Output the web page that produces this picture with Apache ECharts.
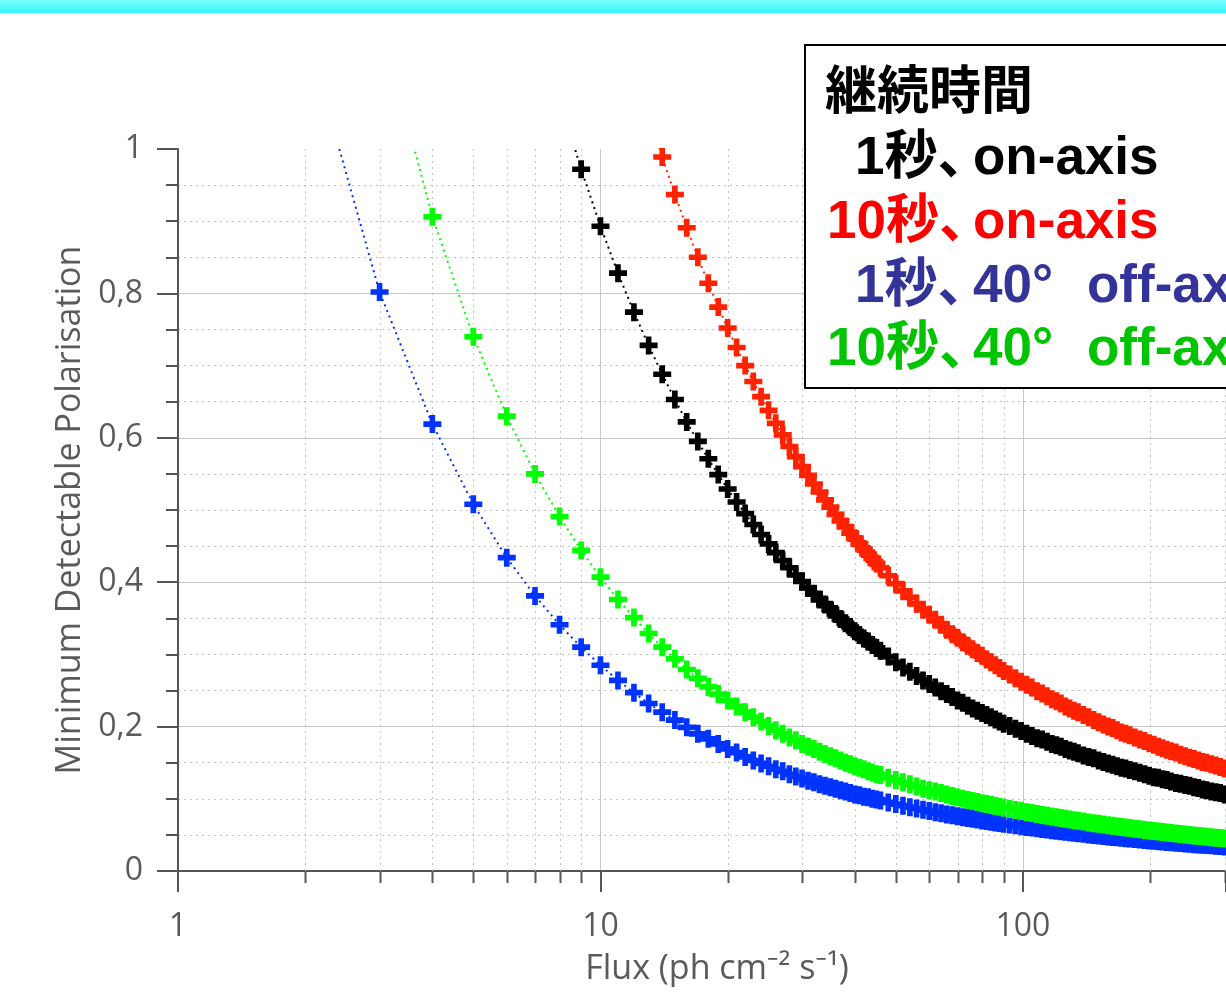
<!DOCTYPE html>
<html>
<head>
<meta charset="utf-8">
<title>Minimum Detectable Polarisation</title>
<script src="https://cdn.jsdelivr.net/npm/echarts@6/dist/echarts.min.js"></script>
<style>
  html, body { margin: 0; padding: 0; background: #fff; }
  #chart { width: 1226px; height: 999px; }
</style>
</head>
<body>
<div id="chart"></div>
<script>
// Flux (ph cm^-2 s^-1) at which each MDP point is plotted
var FLUX = [
    2, 3, 4, 5, 6, 7, 8, 9, 10, 11, 12, 13, 14, 15, 16, 17, 18, 19, 20, 21, 22, 23, 24,
    25, 26, 27, 28, 29, 30, 31, 32, 33, 34, 35, 36, 37, 38, 39, 40, 41, 42, 43, 44, 45, 46,
    48, 50, 52, 54, 56, 58, 60, 62, 64, 66, 68, 70, 72, 74, 76, 78, 80, 82, 84, 86, 88, 90,
    93, 96, 99, 102, 105, 108, 111, 114, 117, 120, 123, 126, 129, 132, 135,
    139, 143, 147, 151, 155, 159, 163, 167, 171, 175, 179,
    184, 189, 194, 199, 204, 209, 214, 219, 224,
    230, 236, 242, 248, 254, 260, 266, 272,
    279, 286, 293, 300, 307
]

// 1秒、on-axis (black)
var MDP_1S_ON = [
    null, null, null, null, null, null,
    1.070, 0.972, 0.893, 0.828, 0.774, 0.728, 0.688, 0.653, 0.622, 0.595, 0.571, 0.549, 0.529,
    0.511, 0.495, 0.480, 0.466, 0.453, 0.441, 0.430, 0.420, 0.410, 0.401, 0.392, 0.384, 0.376,
    0.369, 0.362, 0.356, 0.349, 0.343, 0.338, 0.332, 0.327, 0.322, 0.318, 0.313, 0.309, 0.305,
    0.297, 0.289, 0.282, 0.276, 0.270, 0.264, 0.259, 0.254, 0.249, 0.245, 0.241,
    0.236, 0.233, 0.229, 0.225, 0.222, 0.219, 0.216, 0.213, 0.210, 0.207, 0.204,
    0.201, 0.197, 0.194, 0.190, 0.187, 0.184, 0.182, 0.179, 0.176, 0.174, 0.172, 0.169, 0.167, 0.165, 0.163,
    0.160, 0.158, 0.156, 0.153, 0.151, 0.149, 0.147, 0.145, 0.143, 0.142, 0.140,
    0.138, 0.136, 0.134, 0.132, 0.130, 0.129, 0.127, 0.126, 0.124,
    0.122, 0.121, 0.119, 0.118, 0.116, 0.115, 0.113, 0.112,
    0.110, 0.109, 0.108, 0.106, 0.105
]

// 10秒、on-axis (red)
var MDP_10S_ON = [
    null, null, null, null, null, null, null, null, null, null, null,
    1.050, 0.989, 0.937, 0.891, 0.850, 0.814, 0.781, 0.752, 0.725, 0.700, 0.678, 0.657, 0.638,
    0.620, 0.604, 0.588, 0.574, 0.560, 0.548, 0.536, 0.525, 0.514, 0.504, 0.494, 0.485, 0.477,
    0.468, 0.461, 0.453, 0.446, 0.439, 0.433, 0.426, 0.420,
    0.409, 0.398, 0.388, 0.379, 0.370, 0.362, 0.355, 0.348, 0.341, 0.334, 0.328,
    0.323, 0.317, 0.312, 0.307, 0.302, 0.298, 0.293, 0.289, 0.285, 0.281, 0.277,
    0.272, 0.267, 0.262, 0.258, 0.254, 0.249, 0.246, 0.242, 0.238, 0.235, 0.232, 0.228, 0.225, 0.222, 0.220,
    0.216, 0.213, 0.209, 0.206, 0.203, 0.200, 0.198, 0.195, 0.192, 0.190, 0.188,
    0.185, 0.182, 0.180, 0.177, 0.175, 0.172, 0.170, 0.168, 0.166,
    0.164, 0.161, 0.159, 0.157, 0.155, 0.153, 0.151, 0.150,
    0.148, 0.146, 0.144, 0.142, 0.140
]

// 1秒、40° off-axis (blue)
var MDP_1S_OFF = [
    1.168, 0.802, 0.619, 0.508, 0.434, 0.381, 0.341, 0.310, 0.285, 0.264, 0.247, 0.232, 0.220,
    0.209, 0.199, 0.190, 0.183, 0.176, 0.169, 0.164, 0.158, 0.153, 0.149, 0.145, 0.141, 0.138,
    0.134, 0.131, 0.128, 0.125, 0.123, 0.120, 0.118, 0.116, 0.114, 0.112, 0.110, 0.108, 0.106,
    0.105, 0.103, 0.102, 0.100, 0.0989, 0.0975,
    0.0950, 0.0927, 0.0905, 0.0884, 0.0865, 0.0847, 0.0830, 0.0814, 0.0799, 0.0784, 0.0771,
    0.0758, 0.0745, 0.0734, 0.0722, 0.0712, 0.0701, 0.0691, 0.0682, 0.0673, 0.0664, 0.0656,
    0.0643, 0.0632, 0.0621, 0.0611, 0.0601, 0.0591, 0.0583, 0.0574, 0.0566, 0.0558, 0.0550, 0.0543, 0.0536, 0.0529, 0.0523,
    0.0515, 0.0507, 0.0499, 0.0492, 0.0485, 0.0478, 0.0472, 0.0466, 0.0460, 0.0454, 0.0449,
    0.0442, 0.0436, 0.0430, 0.0424, 0.0418, 0.0413, 0.0408, 0.0403, 0.0398,
    0.0392, 0.0387, 0.0382, 0.0377, 0.0372, 0.0368, 0.0364, 0.0359,
    0.0355, 0.0350, 0.0346, 0.0341, 0.0337
]

// 10秒、40° off-axis (green)
var MDP_10S_OFF = [
    null,
    1.181, 0.906, 0.740, 0.630, 0.550, 0.491, 0.444, 0.407, 0.376, 0.351, 0.329, 0.310, 0.294,
    0.279, 0.267, 0.255, 0.245, 0.236, 0.228, 0.220, 0.213, 0.207, 0.201, 0.195, 0.190, 0.185,
    0.181, 0.176, 0.172, 0.169, 0.165, 0.162, 0.159, 0.156, 0.153, 0.150, 0.148, 0.145,
    0.143, 0.141, 0.138, 0.136, 0.134, 0.133,
    0.129, 0.126, 0.123, 0.120, 0.117, 0.114, 0.112, 0.110, 0.108, 0.106, 0.104,
    0.102, 0.100, 0.0985, 0.0970, 0.0955, 0.0940, 0.0927, 0.0914, 0.0901, 0.0889, 0.0877,
    0.0860, 0.0845, 0.0830, 0.0815, 0.0802, 0.0789, 0.0777, 0.0765, 0.0754, 0.0743, 0.0733, 0.0723, 0.0713, 0.0704, 0.0695,
    0.0684, 0.0673, 0.0663, 0.0653, 0.0644, 0.0635, 0.0626, 0.0618, 0.0610, 0.0602, 0.0594,
    0.0586, 0.0577, 0.0569, 0.0561, 0.0554, 0.0546, 0.0539, 0.0533, 0.0526,
    0.0519, 0.0512, 0.0505, 0.0498, 0.0492, 0.0486, 0.0480, 0.0474,
    0.0468, 0.0462, 0.0456, 0.0450, 0.0445
]

var X_LABELS = [1, 10, 100]
var X_MINOR = [2, 3, 4, 5, 6, 7, 8, 9, 20, 30, 40, 50, 60, 70, 80, 90, 200, 300]

var LEGEND_TITLE = '継続時間'
var LEGEND_ROWS = [
    { head: '1秒、', body: ['on-axis'], color: '#000000' },
    { head: '10秒、', body: ['on-axis'], color: '#ff0000' },
    { head: '1秒、', body: ['40°', 'off-axis'], color: '#333399' },
    { head: '10秒、', body: ['40°', 'off-axis'], color: '#00c400' }
]

var AXIS_FONT = '"Open Sans", "Noto Sans", sans-serif'
var LEGEND_FONT = '"Liberation Sans", "Noto Sans CJK JP", sans-serif'
var PLUS = 'path://M5.5,0H10.5V5.5H16V10.5H10.5V16H5.5V10.5H0V5.5H5.5Z'

/**
 * @description FLUX と値の配列から [x, y] の組を作る (null は飛ばす)
 */
function toPairs(values) {
    var out = []
    for (var i = 0; i < FLUX.length; i++) {
        if (values[i] != null) out.push([FLUX[i], values[i]])
    }
    return out
}

function getSeries(name, values, color) {
    return {
        name: name,
        type: 'line',
        data: toPairs(values),
        symbol: PLUS,
        symbolSize: 18,
        showSymbol: true,
        showAllSymbol: true,
        clip: true,
        itemStyle: { color: color },
        lineStyle: { color: color, width: 2, type: [2, 4] },
        emphasis: { disabled: true },
        animation: false
    }
}

// 対数軸の補助目盛と点線グリッド (2..9, 20..90, 200, 300)
function getMinorXSeries() {
    return {
        type: 'custom',
        silent: true,
        clip: false,
        animation: false,
        data: X_MINOR.map(function (v) { return [v, 0] }),
        encode: { x: 0, y: 1 },
        renderItem: function (params, api) {
            var bottom = api.coord([api.value(0), 0])
            var top = api.coord([api.value(0), 1])
            var x = Math.round(bottom[0]) + 0.5
            return {
                type: 'group',
                children: [
                    {
                        type: 'line',
                        shape: { x1: x, y1: bottom[1], x2: x, y2: top[1] },
                        style: { stroke: '#c4c4c4', lineWidth: 1, lineDash: [2, 4] }
                    },
                    {
                        type: 'line',
                        shape: { x1: x, y1: bottom[1], x2: x, y2: bottom[1] + 12 },
                        style: { stroke: '#555555', lineWidth: 2 }
                    }
                ]
            }
        }
    }
}

function getLegendGraphics() {
    var items = [
        {
            type: 'rect',
            shape: { x: 805, y: 45, width: 460, height: 343 },
            style: { fill: '#ffffff', stroke: '#000000', lineWidth: 2 },
            z: 100
        },
        {
            type: 'text', x: 825, y: 95, z: 101,
            style: {
                text: LEGEND_TITLE, fill: '#000000', fontSize: 52, fontWeight: 'bold',
                fontFamily: LEGEND_FONT, verticalAlign: 'middle'
            }
        }
    ]
    var rowY = [159, 223, 287, 350]
    var bodyX = [973, 1087]
    LEGEND_ROWS.forEach(function (row, i) {
        var headX = row.head.indexOf('10') === 0 ? 827 : 855
        var parts = [{ text: row.head, x: headX }]
        row.body.forEach(function (t, j) { parts.push({ text: t, x: bodyX[j] }) })
        parts.forEach(function (p) {
            items.push({
                type: 'text', x: p.x, y: rowY[i], z: 101,
                style: {
                    text: p.text, fill: row.color, fontSize: 53, fontWeight: 'bold',
                    fontFamily: LEGEND_FONT, verticalAlign: 'middle'
                }
            })
        })
    })
    return items
}

function getOption() {
    return {
        backgroundColor: '#ffffff',
        animation: false,
        tooltip: { show: false },
        grid: {
            left: 178, right: 0, top: 149, bottom: 128,
            containLabel: false, outerBoundsMode: 'none'
        },
        xAxis: {
            type: 'log',
            logBase: 10,
            min: 1,
            max: 302.4,
            name: 'Flux (ph cm\u207b\u00b2 s\u207b\u00b9)',
            nameLocation: 'middle',
            nameGap: 81,
            nameTextStyle: { color: '#5a5a5a', fontSize: 34, fontFamily: AXIS_FONT, padding: [0, 0, 0, 30] },
            axisLine: { show: true, onZero: false, lineStyle: { color: '#555555', width: 2 } },
            axisTick: { show: true, length: 21, lineStyle: { color: '#555555', width: 2 } },
            axisLabel: {
                color: '#5a5a5a', fontSize: 32, fontFamily: AXIS_FONT, margin: 40,
                formatter: function (v) {
                    var r = Math.round(v)
                    return X_LABELS.indexOf(r) >= 0 && Math.abs(v - r) < 1e-6 ? String(r) : ''
                }
            },
            splitLine: { show: true, showMaxLine: false, lineStyle: { color: '#c8c8c8', width: 1 } }
        },
        yAxis: {
            type: 'value',
            min: 0,
            max: 1,
            interval: 0.2,
            name: 'Minimum Detectable Polarisation',
            nameLocation: 'middle',
            nameGap: 89,
            nameTextStyle: { color: '#5a5a5a', fontSize: 34, fontFamily: AXIS_FONT },
            axisLine: { show: true, lineStyle: { color: '#555555', width: 2 } },
            axisTick: { show: true, length: 21, lineStyle: { color: '#555555', width: 2 } },
            minorTick: { show: true, splitNumber: 4, length: 12, lineStyle: { color: '#555555', width: 2 } },
            axisLabel: {
                color: '#5a5a5a', fontSize: 32, fontFamily: AXIS_FONT, margin: 35,
                formatter: function (v) {
                    if (v === 0) return '0'
                    if (v === 1) return '1'
                    return v.toFixed(1).replace('.', ',')
                }
            },
            splitLine: { show: true, showMaxLine: false, lineStyle: { color: '#c8c8c8', width: 1 } },
            minorSplitLine: { show: true, lineStyle: { color: '#c4c4c4', width: 1, type: [2, 4] } }
        },
        graphic: [
            {
                type: 'rect',
                shape: { x: 0, y: 0, width: 1226, height: 13 },
                style: {
                    fill: new echarts.graphic.LinearGradient(0, 0, 0, 1, [
                        { offset: 0, color: '#7affff' },
                        { offset: 1, color: '#33f5ff' }
                    ])
                },
                z: 100
            }
        ].concat(getLegendGraphics()),
        series: [
            getMinorXSeries(),
            getSeries('1秒、on-axis', MDP_1S_ON, '#000000'),
            getSeries('10秒、on-axis', MDP_10S_ON, '#ff2200'),
            getSeries('1秒、40° off-axis', MDP_1S_OFF, '#0033ff'),
            getSeries('10秒、40° off-axis', MDP_10S_OFF, '#00ff00')
        ]
    }
}

function renderChart(domId, option) {
    var dom = document.getElementById(domId)
    var chart = echarts.init(dom, null, { renderer: 'canvas' })
    chart.setOption(option)
}

renderChart('chart', getOption())
</script>
</body>
</html>
